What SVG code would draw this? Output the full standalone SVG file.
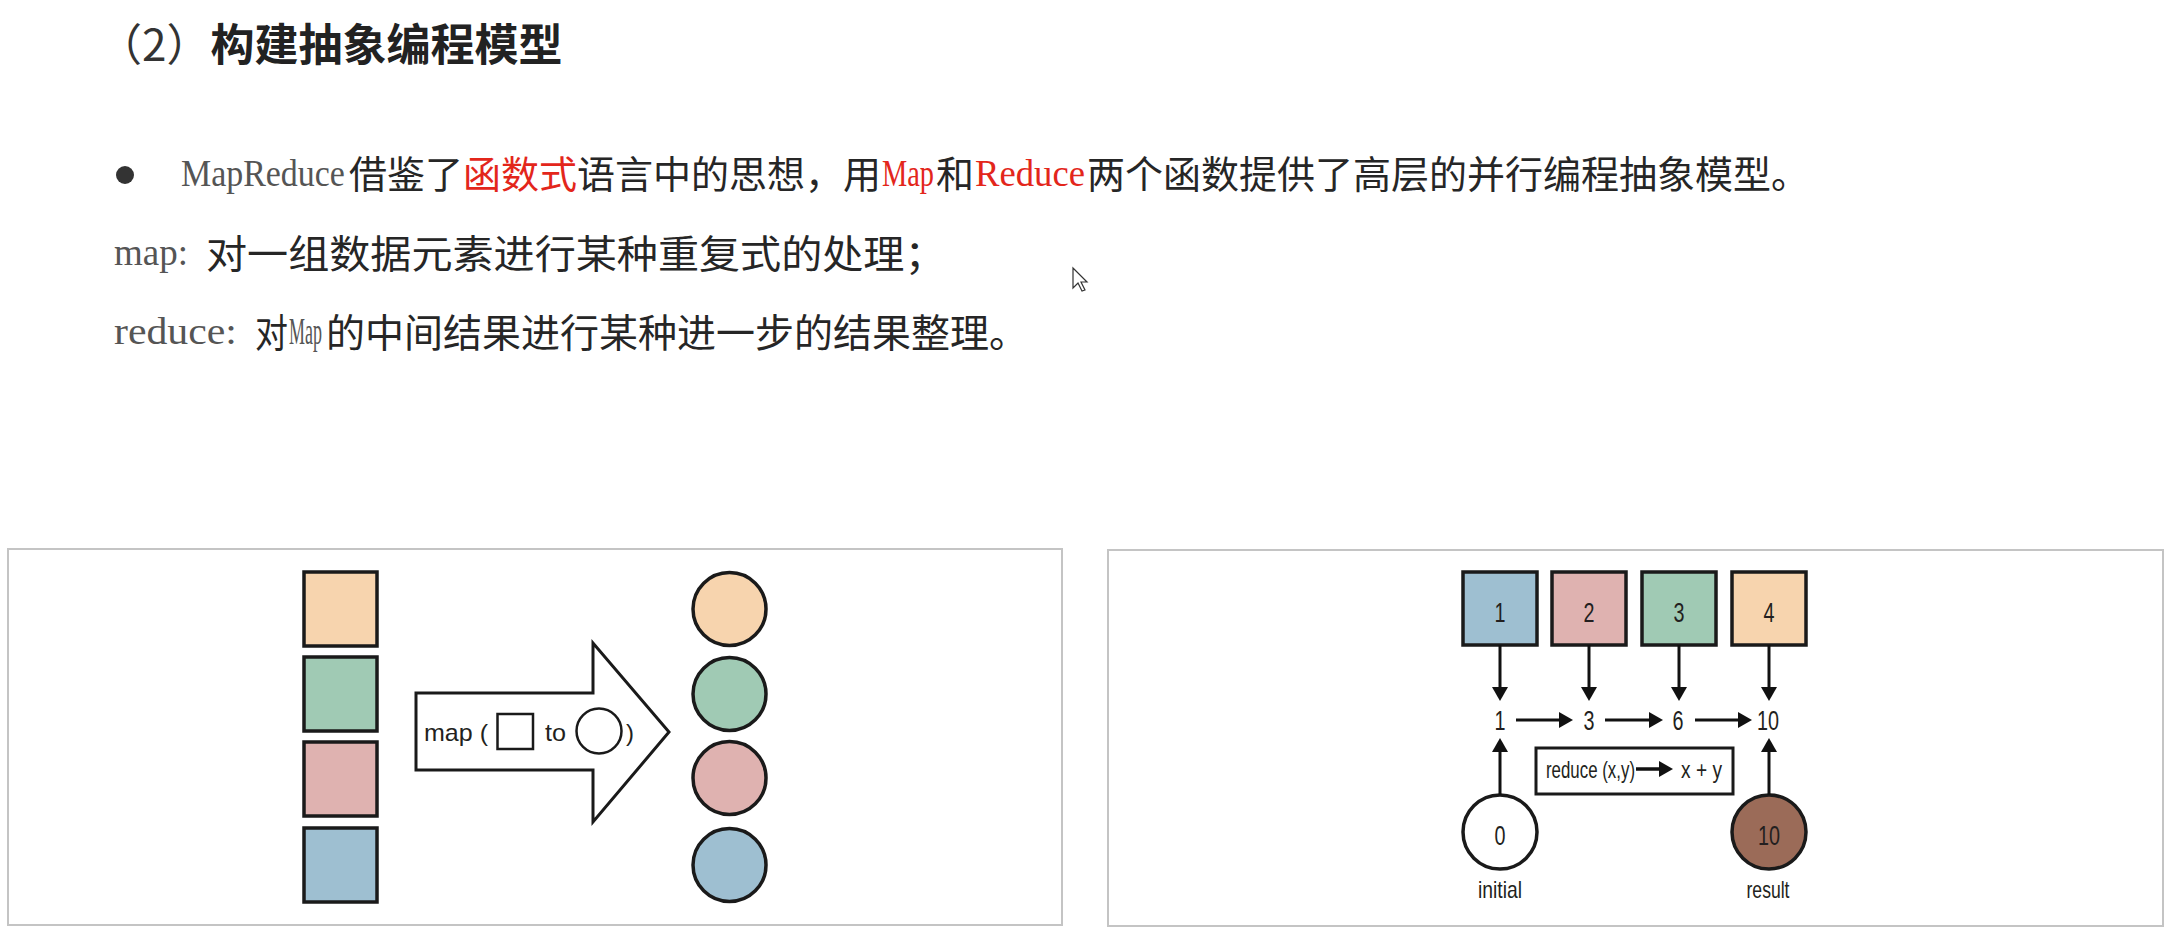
<svg xmlns="http://www.w3.org/2000/svg" width="2179" height="944" viewBox="0 0 2179 944">
<style>
.cjk{font-family:"Noto Sans CJK SC","Noto Sans",sans-serif;fill:#262626;}
.lat{font-family:"Liberation Serif","DejaVu Serif",serif;font-size:38px;fill:#555555;}
.red{fill:#e3261b;}
.ttl{font-family:"Noto Sans CJK SC","Noto Sans",sans-serif;font-size:44px;fill:#222222;}
.b{font-weight:700;}
.lbl{font-family:"Liberation Sans","Open Sans",sans-serif;font-size:24px;fill:#231f20;}
.dg{font-family:"Liberation Sans","Open Sans",sans-serif;font-size:27px;fill:#231f20;}
.panel{fill:#ffffff;stroke:#c4c4c4;stroke-width:2;}
.shape{stroke:#1a1a1a;stroke-width:3.5;}
.line{stroke:#111111;stroke-width:3;fill:none;}
</style>
<defs>
<marker id="ah" viewBox="0 0 14 16" refX="4" refY="8" markerWidth="14" markerHeight="16" markerUnits="userSpaceOnUse" orient="auto">
<path d="M0,0 L14,8 L0,16 Z" fill="#111111"/>
</marker>
</defs>
<rect x="0" y="0" width="2179" height="944" fill="#ffffff"/>

<g id="title">
<text class="ttl" x="98" y="61"><tspan fill="#333333">（2）</tspan><tspan class="b">构建抽象编程模型</tspan></text>
</g>

<g id="line1">
<circle cx="125" cy="175" r="9" fill="#333333"/>
<text class="lat" transform="matrix(0.893 0 0 1 181 186)">MapReduce</text>
<text class="cjk" x="349" y="188" font-size="38">借鉴了</text>
<text class="cjk red" x="463" y="188" font-size="38">函数式</text>
<text class="cjk" x="577" y="188" font-size="38">语言中的思想，用</text>
<text class="lat red" transform="matrix(0.746 0 0 1 882 186)">Map</text>
<text class="cjk" x="936" y="188" font-size="38">和</text>
<text class="lat red" transform="matrix(0.965 0 0 1 975 186)">Reduce</text>
<text class="cjk" x="1087" y="188" font-size="38">两个函数提供了高层的并行编程抽象模型。</text>
</g>

<g id="line2">
<text class="lat" transform="matrix(0.974 0 0 1 114 265)">map:</text>
<text class="cjk" font-size="39" transform="matrix(1.054 0 0 1 206 268)">对一组数据元素进行某种重复式的处理；</text>
</g>

<g id="line3">
<text class="lat" transform="matrix(1.1 0 0 1 114 344)">reduce:</text>
<text class="cjk" font-size="39" transform="matrix(0.846 0 0 1 255 347)">对</text>
<text class="lat" transform="matrix(0.473 0 0 1 289 344)">Map</text>
<text class="cjk" font-size="39" transform="matrix(1.0 0 0 1 326 347)">的中间结果进行某种进一步的结果整理。</text>
</g>

<g id="cursor">
<path d="M1073,268 L1073,288 L1078,283 L1082,291 L1085,290 L1081,282 L1087,282 Z" fill="#ffffff" stroke="#333333" stroke-width="1.2"/>
</g>

<g id="map-panel">
<rect class="panel" x="8" y="549" width="1054" height="376"/>
<rect class="shape" x="304" y="572" width="73" height="74" fill="#f7d4ae"/>
<rect class="shape" x="304" y="657" width="73" height="74" fill="#a0cab4"/>
<rect class="shape" x="304" y="742" width="73" height="74" fill="#dfb2b0"/>
<rect class="shape" x="304" y="828" width="73" height="74" fill="#9ebfd1"/>
<circle class="shape" cx="729.5" cy="609" r="36.5" fill="#f7d4ae"/>
<circle class="shape" cx="729.5" cy="694" r="36.5" fill="#a0cab4"/>
<circle class="shape" cx="729.5" cy="778" r="36.5" fill="#dfb2b0"/>
<circle class="shape" cx="729.5" cy="865" r="36.5" fill="#9ebfd1"/>
<g id="map-arrow">
<polygon points="416,693 593,693 593,643 669,732 593,822 593,770 416,770" fill="#ffffff" stroke="#1a1a1a" stroke-width="3"/>
<text class="lbl" x="424" y="741" font-size="30" textLength="64" lengthAdjust="spacingAndGlyphs">map (</text>
<rect x="497.5" y="714" width="35.5" height="35" fill="#ffffff" stroke="#1a1a1a" stroke-width="2.5"/>
<text class="lbl" x="545" y="741" font-size="30" textLength="21" lengthAdjust="spacingAndGlyphs">to</text>
<circle cx="599" cy="731" r="22.5" fill="#ffffff" stroke="#1a1a1a" stroke-width="2.5"/>
<text class="lbl" x="626" y="741" font-size="30" textLength="8" lengthAdjust="spacingAndGlyphs">)</text>
</g>
</g>

<g id="reduce-panel">
<rect class="panel" x="1108" y="550" width="1055" height="376"/>
<g id="sq1"><rect class="shape" x="1463" y="572" width="74" height="73" fill="#9ebfd1"/><text class="dg" x="1500" y="622" text-anchor="middle" textLength="11" lengthAdjust="spacingAndGlyphs">1</text></g>
<g id="sq2"><rect class="shape" x="1552" y="572" width="74" height="73" fill="#dfb2b0"/><text class="dg" x="1589" y="622" text-anchor="middle" textLength="11" lengthAdjust="spacingAndGlyphs">2</text></g>
<g id="sq3"><rect class="shape" x="1642" y="572" width="74" height="73" fill="#a0cab4"/><text class="dg" x="1679" y="622" text-anchor="middle" textLength="11" lengthAdjust="spacingAndGlyphs">3</text></g>
<g id="sq4"><rect class="shape" x="1732" y="572" width="74" height="73" fill="#f7d4ae"/><text class="dg" x="1769" y="622" text-anchor="middle" textLength="11" lengthAdjust="spacingAndGlyphs">4</text></g>

<g id="acc">
<text class="dg" x="1500" y="730" text-anchor="middle" textLength="11" lengthAdjust="spacingAndGlyphs">1</text>
<text class="dg" x="1589" y="730" text-anchor="middle" textLength="11" lengthAdjust="spacingAndGlyphs">3</text>
<text class="dg" x="1678" y="730" text-anchor="middle" textLength="11" lengthAdjust="spacingAndGlyphs">6</text>
<text class="dg" x="1768" y="730" text-anchor="middle" textLength="22" lengthAdjust="spacingAndGlyphs">10</text>
</g>

<g id="reduce-box">
<rect x="1536" y="748" width="197" height="46" fill="#ffffff" stroke="#1a1a1a" stroke-width="3"/>
<text class="lbl" x="1546" y="778" font-size="25" textLength="89" lengthAdjust="spacingAndGlyphs">reduce (x,y)</text>
<line x1="1636" y1="769" x2="1663" y2="769" stroke="#111111" stroke-width="3.5" marker-end="url(#ah)"/>
<text class="lbl" x="1681" y="778" font-size="25" textLength="41" lengthAdjust="spacingAndGlyphs">x + y</text>
</g>

<g id="initial">
<circle class="shape" cx="1500" cy="832" r="37" fill="#ffffff"/>
<text class="dg" x="1500" y="845" text-anchor="middle" textLength="11" lengthAdjust="spacingAndGlyphs">0</text>
<text class="lbl" x="1500" y="898" text-anchor="middle" font-size="25" textLength="44" lengthAdjust="spacingAndGlyphs">initial</text>
</g>
<g id="result">
<circle class="shape" cx="1769" cy="832" r="37" fill="#9b6b58"/>
<text class="dg" x="1769" y="845" text-anchor="middle" fill="#2b1d16" textLength="22" lengthAdjust="spacingAndGlyphs">10</text>
<text class="lbl" x="1768" y="898" text-anchor="middle" font-size="25" textLength="43" lengthAdjust="spacingAndGlyphs">result</text>
</g>
</g>

<g id="connectors">
<line class="line" x1="1500" y1="645" x2="1500" y2="691" marker-end="url(#ah)"/>
<line class="line" x1="1589" y1="645" x2="1589" y2="691" marker-end="url(#ah)"/>
<line class="line" x1="1679" y1="645" x2="1679" y2="691" marker-end="url(#ah)"/>
<line class="line" x1="1769" y1="645" x2="1769" y2="691" marker-end="url(#ah)"/>
<line class="line" x1="1516" y1="720" x2="1563" y2="720" marker-end="url(#ah)"/>
<line class="line" x1="1605" y1="720" x2="1653" y2="720" marker-end="url(#ah)"/>
<line class="line" x1="1695" y1="720" x2="1742" y2="720" marker-end="url(#ah)"/>
<line class="line" x1="1500" y1="795" x2="1500" y2="748" marker-end="url(#ah)"/>
<line class="line" x1="1769" y1="795" x2="1769" y2="748" marker-end="url(#ah)"/>
</g>
</svg>
